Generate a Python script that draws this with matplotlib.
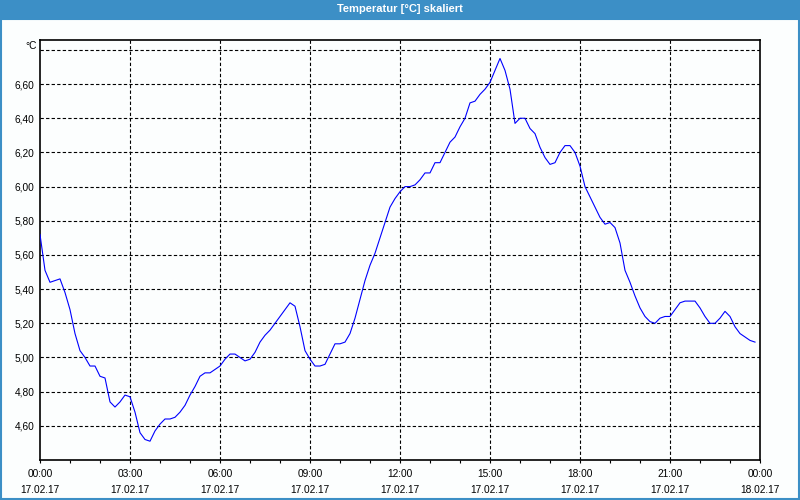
import matplotlib
matplotlib.use("Agg")
import matplotlib.pyplot as plt
from matplotlib.patches import Rectangle

# 10-minute samples, 00:00 .. 23:50 on 17.02.17
temps = [
    5.72, 5.51, 5.44, 5.45, 5.46, 5.38, 5.28, 5.14, 5.04, 5.00, 4.95, 4.95,
    4.89, 4.88, 4.74, 4.71, 4.74, 4.78, 4.77, 4.68, 4.56, 4.52, 4.51, 4.57,
    4.61, 4.64, 4.64, 4.65, 4.68, 4.72, 4.78, 4.83, 4.89, 4.91, 4.91, 4.93,
    4.95, 4.99, 5.02, 5.02, 5.00, 4.98, 4.99, 5.03, 5.09, 5.13, 5.16, 5.20,
    5.24, 5.28, 5.32, 5.30, 5.18, 5.04, 4.99, 4.95, 4.95, 4.96, 5.02, 5.08,
    5.08, 5.09, 5.14, 5.23, 5.34, 5.45, 5.54, 5.61, 5.70, 5.79, 5.88, 5.93,
    5.97, 6.00, 6.00, 6.01, 6.04, 6.08, 6.08, 6.14, 6.14, 6.20, 6.26, 6.29,
    6.35, 6.40, 6.49, 6.50, 6.54, 6.57, 6.61, 6.68, 6.75, 6.68, 6.57, 6.37,
    6.40, 6.40, 6.34, 6.31, 6.23, 6.17, 6.13, 6.14, 6.20, 6.24, 6.24, 6.20,
    6.12, 6.00, 5.94, 5.88, 5.82, 5.78, 5.79, 5.76, 5.67, 5.51, 5.44, 5.36,
    5.29, 5.24, 5.21, 5.20, 5.23, 5.24, 5.24, 5.28, 5.32, 5.33, 5.33, 5.33,
    5.29, 5.24, 5.20, 5.20, 5.23, 5.27, 5.24, 5.18, 5.14, 5.12, 5.10, 5.09,
]
hours = [i / 6.0 for i in range(len(temps))]

tick_hours = [0, 3, 6, 9, 12, 15, 18, 21, 24]
tick_times = ["00:00", "03:00", "06:00", "09:00", "12:00", "15:00", "18:00", "21:00", "00:00"]
tick_dates = ["17.02.17"] * 8 + ["18.02.17"]
y_ticks = [4.6, 4.8, 5.0, 5.2, 5.4, 5.6, 5.8, 6.0, 6.2, 6.4, 6.6, 6.8]
title = "Temperatur [°C] skaliert"
unit = "°C"

plt.rcParams['font.family'] = ['Liberation Sans', 'DejaVu Sans']

W, H = 800, 500
fig = plt.figure(figsize=(8, 5), dpi=100, facecolor="#fcfefe")

# title bar
bar_h = 20
fig.patches.append(Rectangle((0, 1 - bar_h / H), 1, bar_h / H, transform=fig.transFigure,
                             facecolor="#3c8fc6", edgecolor="none", zorder=0))
fig.text(0.5, 1 - 9.5 / H, title, ha="center", va="center", color="white",
         fontsize=8, fontweight="bold")
# outer frame
fig.patches.append(Rectangle((0.001, 0.002), 0.998, 1 - bar_h / H, transform=fig.transFigure,
                             facecolor="none", edgecolor="#3c8fc6", lw=1.5, zorder=0))

ax = fig.add_axes([40 / W, 40 / H, 720 / W, 420 / H])
ax.set_facecolor("#fcfefe")
ax.plot(hours, temps, color="#0000ff", lw=0.8, zorder=3)

ax.set_xlim(0, 24)
ax.set_ylim(4.40, 6.858)

ax.set_xticks(tick_hours)
ax.set_xticklabels([f"{t}\n{d}" for t, d in zip(tick_times, tick_dates)],
                   fontsize=7.3, linespacing=1.75)
ax.set_xticks(list(range(25)), minor=True)
ax.tick_params(axis="x", which="both", direction="out", length=2.5, width=0.8, pad=4)

ax.set_yticks(y_ticks)
ax.set_yticklabels([f"{v:.2f}".replace(".", ",") if v < 6.7 else "" for v in y_ticks], fontsize=7.3)
ax.tick_params(axis="y", length=0, pad=4)

for h in tick_hours[1:-1]:
    ax.axvline(h, color="black", lw=0.8, dashes=(3, 2), zorder=1)
for v in y_ticks:
    ax.axhline(v, color="black", lw=0.8, dashes=(3, 2), zorder=1)

for s in ax.spines.values():
    s.set_linewidth(1.2)
    s.set_color("black")

fig.text(37 / W, 1 - 46 / H, unit, ha="right", va="center", fontsize=7.3)

fig.savefig("out.png", dpi=100, facecolor=fig.get_facecolor())
